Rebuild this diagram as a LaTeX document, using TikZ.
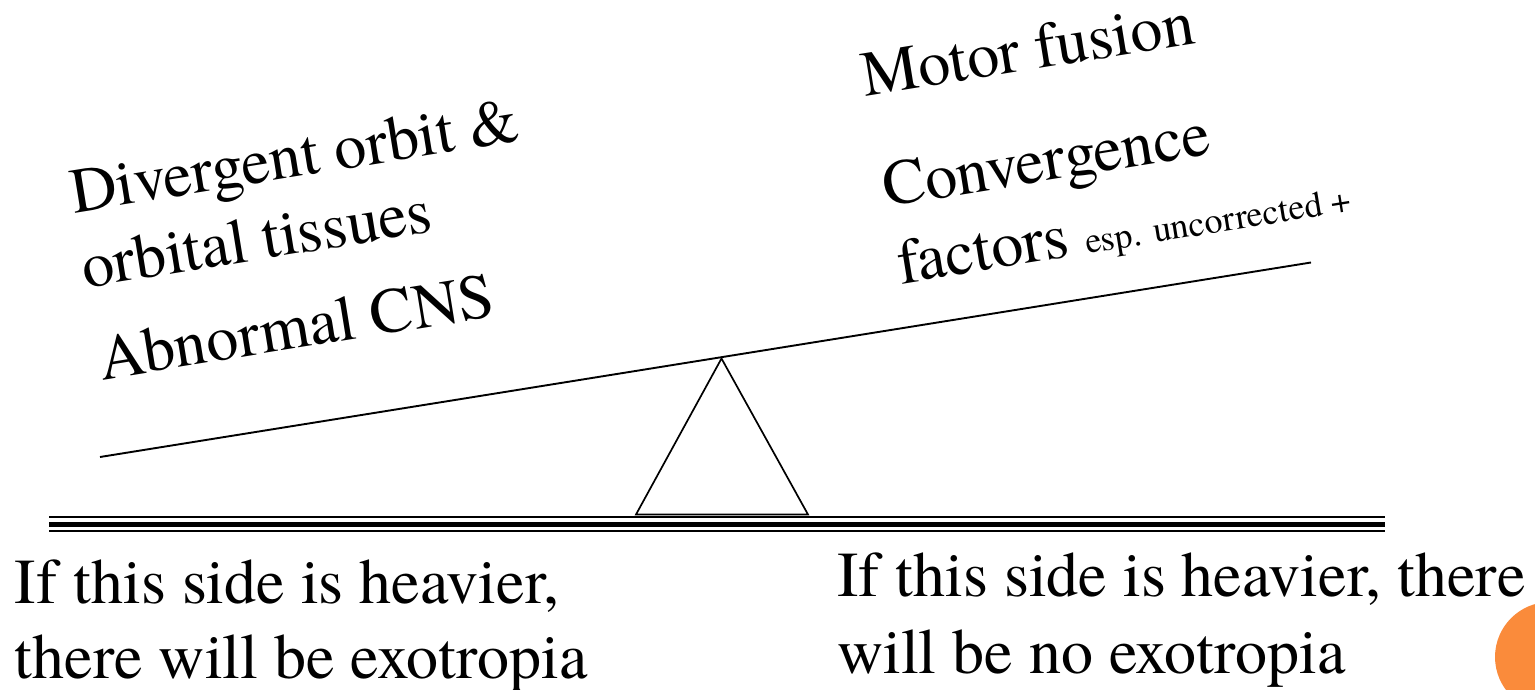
\documentclass[tikz,border=0pt]{standalone}
\usepackage{fontspec}
\setmainfont{texgyretermes-regular.otf}
\definecolor{accent}{HTML}{FA8B3B}
\begin{document}
\begin{tikzpicture}[x=1pt,y=-1pt,
  big/.style={inner sep=0pt, outer sep=0pt, font=\fontsize{64}{76}\selectfont},
  tilted/.style={big, anchor=base west, rotate=9.2},
  flat/.style={big, anchor=base west},
  beam/.style={line width=1.9pt},
  ground/.style={line cap=butt}]
\useasboundingbox (0,0) rectangle (1535,690);
% ground (three lines)
\coordinate (g1L) at (49,517);   \coordinate (g1R) at (1385,517);
\coordinate (g2L) at (49,524.7); \coordinate (g2R) at (1385,524.7);
\coordinate (g3L) at (49,531.2); \coordinate (g3R) at (1385,531.2);
\draw[ground, line width=2.4pt] (g1L) -- (g1R);
\draw[ground, line width=5.4pt] (g2L) -- (g2R);
\draw[ground, line width=2.4pt] (g3L) -- (g3R);
% fulcrum
\coordinate (apex) at (721.5,358.5);
\coordinate (bl) at (636,514.5);
\coordinate (br) at (808,514.5);
\draw[line width=1.7pt, line join=miter] (apex) -- (bl) -- (br) -- cycle;
% lever
\coordinate (levL) at (100,457);
\coordinate (levR) at (1311,262.5);
\draw[beam] (levL) -- (levR);
% left labels
\node[tilted] (div) at (74,213) {Divergent orbit \&};
\node[tilted] (orb) at (85,288) {orbital tissues};
\node[tilted] (cns) at (102,380) {Abnormal CNS};
% right labels
\node[tilted] (mot) at (865,97) {Motor fusion};
\node[tilted] (con) at (886,207) {Convergence};
\node[tilted] (fac) at (901,284) {factors {\fontsize{36}{40}\selectfont esp. uncorrected +}};
% bottom texts
\node[flat] (l1) at (15,603) {If this side is heavier,};
\node[flat] (l2) at (15,678) {there will be exotropia};
\node[flat] (r1) at (837,596) {If this side is heavier, there};
\node[flat] (r2) at (837,673) {will be no exotropia};
% orange dot
\begin{scope}
\clip (0,0) rectangle (1535,690);
\fill[accent] (1550,657) circle[radius=55];
\end{scope}
\end{tikzpicture}
\end{document}
